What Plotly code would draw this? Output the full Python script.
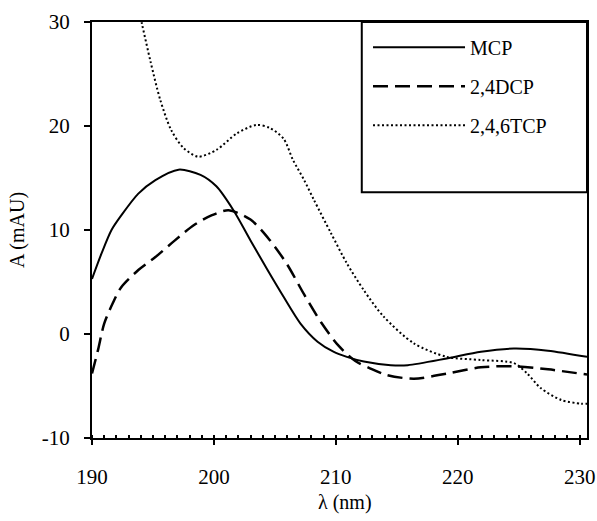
import plotly.graph_objects as go

# ---- data ----
mcp_x = [190, 190.8, 191.6, 192.4, 193.8, 195.2, 197.1, 198.9, 200.2, 201.6, 203.0,
         204.4, 205.7, 207.1, 208.5, 209.8, 210.9, 212.3, 214.5, 215.9, 219.1, 221.9,
         224.6, 227.4, 230.6]
mcp_y = [5.3, 7.8, 10.0, 11.4, 13.5, 14.8, 15.8, 15.3, 14.2, 11.9, 9.0,
         6.15, 3.6, 1.0, -0.74, -1.7, -2.2, -2.65, -3.0, -3.0, -2.35, -1.7,
         -1.4, -1.6, -2.2]

dcp_x = [190, 190.5, 191.0, 191.7, 192.4, 193.8, 195.2, 196.8, 198.4, 199.8, 201.2,
         203.0, 204.6, 206.0, 207.4, 208.8, 210.2, 211.6, 212.8, 214.2, 216.4,
         219.1, 221.9, 224.6, 227.4, 230.6]
dcp_y = [-3.8, -1.5, 1.0, 2.95, 4.5, 6.15, 7.4, 9.0, 10.5, 11.4, 11.9,
         11.0, 9.0, 6.7, 3.8, 1.1, -1.1, -2.6, -3.3, -3.95, -4.3,
         -3.8, -3.2, -3.1, -3.4, -3.9]

tcp_x = [193.0, 194.1, 194.8, 195.6, 196.5, 197.5, 198.7, 200.2, 201.9, 203.5,
         204.6, 205.7, 206.5, 207.4, 208.2, 209.6, 210.9, 212.3, 213.9, 216.4,
         219.1, 221.9, 224.6, 225.7, 226.8, 228.5, 230.1, 230.6]
tcp_y = [35.5, 29.8, 26.2, 22.5, 19.6, 17.9, 17.05, 17.7, 19.3, 20.1,
         19.8, 18.8, 16.7, 14.8, 12.9, 9.7, 6.8, 4.2, 1.7, -0.9,
         -2.2, -2.5, -2.8, -3.8, -5.2, -6.35, -6.7, -6.7]

series_names = ["MCP", "2,4DCP", "2,4,6TCP"]
x_ticks = [190, 200, 210, 220, 230]
x_ticktext = ["190", "200", "210", "220", "230"]
y_ticks = [-10, 0, 10, 20, 30]
y_ticktext = ["-10", "0", "10", "20", "30"]
x_title = "λ (nm)"
y_title = "A (mAU)"

FONT = "Liberation Serif, Times New Roman, serif"

fig = go.Figure()
fig.add_trace(go.Scatter(x=mcp_x, y=mcp_y, name=series_names[0], mode="lines",
                         line=dict(color="black", width=2, shape="spline", smoothing=0.8),
                         legendgroup="a"))
fig.add_trace(go.Scatter(x=dcp_x, y=dcp_y, name=series_names[1], mode="lines",
                         line=dict(color="black", width=2.5, dash="15px,7px",
                                   shape="spline", smoothing=0.8),
                         legendgroup="b"))
fig.add_trace(go.Scatter(x=tcp_x, y=tcp_y, name=series_names[2], mode="lines",
                         line=dict(color="black", width=2, dash="2px,2.5px",
                                   shape="spline", smoothing=0.8),
                         legendgroup="c"))

fig.update_layout(
    width=597, height=521,
    margin=dict(l=92, r=10, t=22, b=83),
    paper_bgcolor="white", plot_bgcolor="white",
    font=dict(family=FONT, size=21, color="black"),
    showlegend=True,
    legend=dict(x=0.5576, xanchor="left", y=0.986, yanchor="top",
                bgcolor="rgba(0,0,0,0)", borderwidth=0,
                font=dict(family=FONT, size=20, color="black"),
                traceorder="grouped", tracegroupgap=10, itemwidth=92),
    shapes=[dict(type="rect", xref="paper", yref="paper",
                 x0=0.545, x1=1.0, y0=0.591, y1=1.0,
                 line=dict(color="black", width=2))],
    annotations=[dict(text=x_title, xref="paper", yref="paper",
                      x=0.511, y=-0.1545, xanchor="center", yanchor="middle",
                      showarrow=False, font=dict(family=FONT, size=20, color="black"))],
)

fig.update_xaxes(
    range=[190, 230.6], tickvals=x_ticks, ticktext=x_ticktext,
    ticks="outside", ticklen=5, tickwidth=2, automargin=False,
    tickcolor="black", showline=True, linecolor="black", linewidth=2, mirror=True,
    showgrid=False, zeroline=False, ticklabelstandoff=14,
    minor=dict(ticks="inside", dtick=1, ticklen=3, tickwidth=2, tickcolor="black",
               showgrid=False),
)
fig.update_yaxes(
    range=[-10, 30], tickvals=y_ticks, ticktext=y_ticktext,
    ticks="outside", ticklen=6, tickwidth=2, automargin=False,
    tickcolor="black", showline=True, linecolor="black", linewidth=2, mirror=True,
    showgrid=False, zeroline=False, ticklabelstandoff=10,
    title=dict(text=y_title, standoff=12, font=dict(family=FONT, size=20)),
)

fig.write_html("out.html", config={"displayModeBar": False},
               post_script="document.body.style.margin='0';document.body.style.padding='0';")
